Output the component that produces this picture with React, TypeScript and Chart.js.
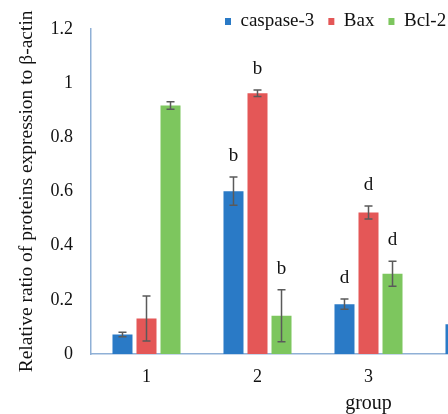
import { useEffect, useRef } from 'react';
import { Chart, registerables } from 'chart.js';

Chart.register(...registerables);

// ---- data ----
const groups = ['1', '2', '3', '4', '5'];
const seriesNames = ['caspase-3', 'Bax', 'Bcl-2'];
const caspase3 = [0.072, 0.601, 0.184, 0.11, null];
const bax = [0.131, 0.962, 0.522, null, null];
const bcl2 = [0.917, 0.141, 0.296, null, null];
const caspase3Err = [0.008, 0.052, 0.019, 0.045, null];
const baxErr = [0.083, 0.012, 0.024, null, null];
const bcl2Err = [0.014, 0.096, 0.046, null, null];
const caspase3Sig = ['', 'b', 'd', 'd', ''];
const baxSig = ['', 'b', 'd', '', ''];
const bcl2Sig = ['', 'b', 'd', '', ''];
const yTickLabels = ['0', '0.2', '0.4', '0.6', '0.8', '1', '1.2'];

// ---- style ----
const SERIF = '"Liberation Serif", "Times New Roman", serif';
const COLORS = ['#2a7ac6', '#e45757', '#7dc65e'];
const AXIS = '#8fb0d6';
const LEGEND_PAD = 14;
const LEGEND_LEFT = 225 - LEGEND_PAD;
const LEGEND_TOP = -1;

const errorBarPlugin = {
  id: 'errorBars',
  afterDatasetsDraw(chart: any) {
    const ctx = chart.ctx;
    const y = chart.scales.y;
    chart.data.datasets.forEach((ds: any, i: number) => {
      const meta = chart.getDatasetMeta(i);
      meta.data.forEach((bar: any, j: number) => {
        const v = ds.data[j];
        const e = ds.errors[j];
        if (v == null || e == null) return;
        const x = bar.x;
        const top = y.getPixelForValue(v + e);
        const bot = y.getPixelForValue(v - e);
        ctx.save();
        ctx.strokeStyle = '#5a5a5a';
        ctx.lineWidth = 1.5;
        ctx.beginPath();
        ctx.moveTo(x, top);
        ctx.lineTo(x, bot);
        ctx.moveTo(x - 4, top);
        ctx.lineTo(x + 4, top);
        ctx.moveTo(x - 4, bot);
        ctx.lineTo(x + 4, bot);
        ctx.stroke();
        const s = ds.sig[j];
        if (s) {
          ctx.fillStyle = '#111';
          ctx.font = `19px ${SERIF}`;
          ctx.textAlign = 'center';
          ctx.textBaseline = 'middle';
          ctx.fillText(s, x, top - 21);
        }
        ctx.restore();
      });
    });
  },
};

const legendPlacement = {
  id: 'legendPlacement',
  beforeDraw(chart: any) {
    const lg = chart.legend;
    if (!lg) return;
    const w = lg.right - lg.left;
    lg.left = LEGEND_LEFT;
    lg.right = LEGEND_LEFT + w;
    lg.top = LEGEND_TOP - (LEGEND_PAD - 13);
    lg.bottom = lg.top + 46;
  },
};

export default function App() {
  const ref = useRef<HTMLCanvasElement | null>(null);

  useEffect(() => {
    if (!ref.current) return;
    const values = [caspase3, bax, bcl2];
    const errs = [caspase3Err, baxErr, bcl2Err];
    const sigs = [caspase3Sig, baxSig, bcl2Sig];
    const chart = new Chart(ref.current, {
      type: 'bar',
      data: {
        labels: groups,
        datasets: seriesNames.map((name, i) => ({
          label: name,
          data: values[i],
          errors: errs[i],
          sig: sigs[i],
          backgroundColor: COLORS[i],
          borderWidth: 0,
          categoryPercentage: 0.649,
          barPercentage: 0.833,
        })) as any,
      },
      options: {
        responsive: false,
        animation: false,
        devicePixelRatio: 1,
        layout: { padding: 0 },
        plugins: {
          legend: {
            position: 'top',
            align: 'start',
            maxHeight: 27,
            labels: {
              boxWidth: 6,
              boxHeight: 7,
              padding: LEGEND_PAD,
              color: '#111',
              font: { family: SERIF, size: 19 },
            },
          },
          tooltip: { enabled: false },
        },
        scales: {
          x: {
            grid: { display: false, drawTicks: false },
            border: { display: true, color: AXIS, width: 1.5 },
            ticks: { color: '#111', font: { family: SERIF, size: 18 }, padding: 12 },
            title: {
              display: true,
              text: 'group',
              color: '#111',
              font: { family: SERIF, size: 20, lineHeight: 1 },
              padding: { top: 0, bottom: 0 },
            },
            afterFit: (s: any) => {
              s.height = 60;
            },
          },
          y: {
            min: 0,
            max: 1.2,
            grid: { display: false, drawTicks: false },
            border: { display: true, color: AXIS, width: 1.5 },
            ticks: {
              stepSize: 0.2,
              padding: 18,
              color: '#111',
              font: { family: SERIF, size: 18 },
              callback: (_v: any, i: number) => yTickLabels[i],
            },
            title: {
              display: true,
              text: 'Relative ratio of proteins expression to β-actin',
              color: '#111',
              font: { family: SERIF, size: 19.5, lineHeight: 1 },
              padding: { top: 17, bottom: 0 },
            },
            afterFit: (s: any) => {
              s.width = 91;
            },
          },
        },
      } as any,
      plugins: [errorBarPlugin, legendPlacement],
    });
    return () => chart.destroy();
  }, []);

  return (
    <div
      style={{
        position: 'fixed',
        left: 0,
        top: 0,
        width: 448,
        height: 414,
        overflow: 'hidden',
        background: '#fff',
      }}
    >
      <canvas ref={ref} width={646} height={414} style={{ display: 'block' }} />
    </div>
  );
}
